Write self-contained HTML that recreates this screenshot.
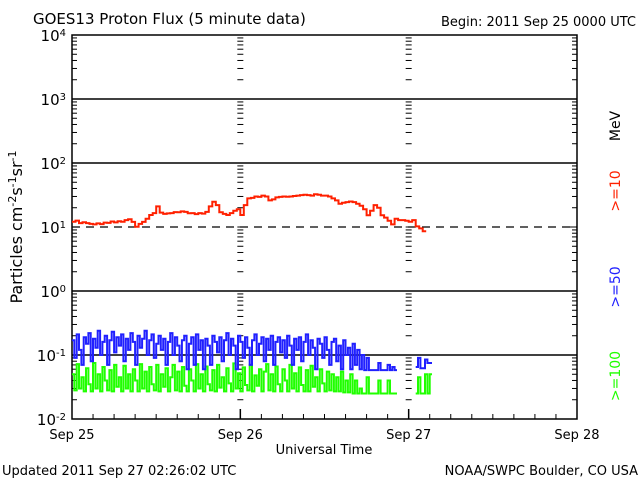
<!DOCTYPE html>
<html><head><meta charset="utf-8"><style>
body{margin:0;background:#fff;}
svg text{font-family:"DejaVu Sans","Liberation Sans",sans-serif;}
</style></head><body>
<svg id="chart" width="640" height="480" xmlns="http://www.w3.org/2000/svg">
<rect width="640" height="480" fill="#fff"/>
<text x="33" y="24" font-size="15">GOES13 Proton Flux (5 minute data)</text>
<text x="636" y="26" font-size="13" text-anchor="end">Begin: 2011 Sep 25 0000 UTC</text>
<text transform="translate(22,227) rotate(-90)" font-size="16" text-anchor="middle">Particles cm<tspan baseline-shift="super" font-size="11">-2</tspan>s<tspan baseline-shift="super" font-size="11">-1</tspan>sr<tspan baseline-shift="super" font-size="11">-1</tspan></text>
<text x="324" y="454" font-size="13" text-anchor="middle">Universal Time</text>
<text x="2" y="475" font-size="13">Updated 2011 Sep 27 02:26:02 UTC</text>
<text x="638" y="475" font-size="13" text-anchor="end">NOAA/SWPC Boulder, CO USA</text>
<text transform="translate(620,126) rotate(-90)" font-size="14" text-anchor="middle">MeV</text>
<text transform="translate(620,191) rotate(-90)" font-size="14" text-anchor="middle" fill="#ff2000">&gt;=10</text>
<text transform="translate(620,287) rotate(-90)" font-size="14" text-anchor="middle" fill="#2020ff">&gt;=50</text>
<text transform="translate(620,376) rotate(-90)" font-size="14" text-anchor="middle" fill="#20ff00">&gt;=100</text>
<g id="axes"></g>
<g id="series"></g>
</svg>
<script>
const dayLabels=["Sep 25","Sep 26","Sep 27","Sep 28"];
const decadeExps=[-2,-1,0,1,2,3,4];
// half-hourly >=10 MeV flux, hours 0..50.5
const p10=[12.1,12.6,11.5,11.9,11.5,11.2,11,11.4,11.1,11.7,11.6,12.2,11.8,12.3,12.1,12.8,13.2,12,10.1,11.2,12,13.5,15.4,16.5,21,16.8,16,16.3,16.5,17.1,17,17.5,17.2,16.4,16.5,15.9,16.5,16.2,17.2,21,24.8,22,17,16,15.4,16.5,18,19,15.4,22,28,28.5,30,29.5,31,30,26,27,29,29.5,30,29.8,30,30.5,31,31.5,32,31.5,31,32.5,32,31,31,30,28,26,23,24,24.5,25,24.5,23,21.5,19,15.3,18,22,20,15.3,14,12.5,11,13.5,12.8,12.8,12.5,12.1,12.8,10.2,9.5,8.6];
// 20-minute >=50 MeV flux (null = data gap)
const p50=[0.17,0.09,0.21,0.12,0.07,0.19,0.15,0.22,0.08,0.18,0.13,0.24,0.1,0.16,0.2,0.07,0.17,0.23,0.11,0.19,0.14,0.21,0.08,0.18,0.12,0.22,0.16,0.07,0.2,0.13,0.18,0.24,0.1,0.17,0.21,0.09,0.15,0.2,0.12,0.18,0.07,0.16,0.22,0.1,0.19,0.14,0.08,0.17,0.2,0.06,0.15,0.19,0.07,0.21,0.12,0.17,0.06,0.18,0.14,0.07,0.2,0.16,0.11,0.19,0.08,0.17,0.22,0.1,0.18,0.14,0.06,0.2,0.16,0.09,0.19,0.13,0.07,0.17,0.21,0.1,0.15,0.19,0.08,0.18,0.12,0.2,0.07,0.16,0.19,0.11,0.17,0.09,0.2,0.14,0.07,0.18,0.12,0.19,0.08,0.16,0.21,0.1,0.17,0.13,0.06,0.18,0.15,0.09,0.19,0.12,0.07,0.16,0.18,0.08,0.14,0.06,0.17,0.1,0.13,0.06,0.15,0.07,0.12,0.06,0.1,0.058,0.09,0.058,0.058,0.058,0.058,0.075,0.058,0.058,0.058,0.07,0.058,0.065,0.058,null,null,null,null,null,null,null,null,0.065,0.09,0.062,0.062,0.085,0.075,0.075];
const p100=[0.05,0.028,0.072,0.03,0.045,0.027,0.062,0.035,0.027,0.075,0.03,0.05,0.027,0.065,0.04,0.028,0.058,0.027,0.07,0.032,0.045,0.027,0.068,0.03,0.05,0.027,0.06,0.04,0.027,0.072,0.03,0.055,0.027,0.065,0.035,0.028,0.07,0.027,0.05,0.032,0.062,0.027,0.045,0.07,0.028,0.055,0.027,0.065,0.033,0.027,0.06,0.04,0.027,0.072,0.03,0.05,0.027,0.066,0.035,0.028,0.058,0.027,0.07,0.031,0.045,0.027,0.062,0.036,0.027,0.074,0.03,0.052,0.027,0.064,0.034,0.028,0.07,0.027,0.048,0.033,0.06,0.027,0.055,0.072,0.028,0.05,0.027,0.066,0.035,0.027,0.06,0.04,0.027,0.07,0.03,0.052,0.027,0.064,0.034,0.027,0.058,0.027,0.068,0.032,0.045,0.027,0.06,0.036,0.027,0.055,0.028,0.05,0.027,0.045,0.027,0.055,0.026,0.04,0.026,0.05,0.025,0.04,0.025,0.03,0.025,0.025,0.045,0.025,0.025,0.025,0.025,0.04,0.025,0.025,0.025,0.04,0.025,0.025,0.025,null,null,null,null,null,null,null,null,0.025,0.045,0.025,0.025,0.05,0.025,0.05];
const NS="http://www.w3.org/2000/svg";
const X0=72,X1=577,Y0=35,Y1=419,dayW=(X1-X0)/3;
const xH=h=>X0+h*dayW/24;
const yV=v=>Y1-(Math.log10(v)+2)*(Y1-Y0)/6;
const axes=document.getElementById('axes'),series=document.getElementById('series');
function mk(t,a,p){const e=document.createElementNS(NS,t);for(const k in a)e.setAttribute(k,a[k]);p.appendChild(e);return e;}
function line(x1,y1,x2,y2,extra){return mk('line',Object.assign({x1,y1,x2,y2,stroke:'#000','stroke-width':1},extra||{}),axes);}
let fr=mk('rect',{x:X0,y:Y0,width:X1-X0,height:Y1-Y0,fill:'none',stroke:'#000','stroke-width':1.5},axes);


decadeExps.forEach(e=>{
  const y=yV(Math.pow(10,e));
  if(e>-2&&e<4){
    let g=line(X0,y,X1,y,e===1?{'stroke-dasharray':'8,6','stroke-width':1.3}:{'stroke-width':1.5});
    
    
  }
  line(X0,y,X0+8,y);line(X1-8,y,X1,y);
  const t=mk('text',{x:X0-6,y:y+6,'font-size':15,'text-anchor':'end'},axes);
  
  
  t.textContent='10';
  const s=mk('tspan',{'baseline-shift':'super','font-size':10},t);s.textContent=String(e);
  if(e<4){for(let m=2;m<10;m++){const ym=yV(m*Math.pow(10,e));
    line(X0,ym,X0+5,ym);line(X1-5,ym,X1,ym);
    [1,2].forEach(d=>{const xd=X0+d*dayW;line(xd-3,ym,xd+3,ym);});}}
});
dayLabels.forEach((d,i)=>{
  const x=X0+i*dayW;
  const t=mk('text',{x:x,y:439,'font-size':13,'text-anchor':'middle'},axes);
  
  
  t.textContent=d;
  if(i>0&&i<3){line(x,Y1,x,Y1-10,{'stroke-width':1.5});
    decadeExps.forEach(e=>{if(e<4){const y=yV(Math.pow(10,e));line(x-3,y,x+3,y);}});}
});
for(let h=3;h<72;h+=3){if(h%24)line(xH(h),Y1,xH(h),Y1-5);}
function draw(arr,step,color,name){
  let d='',pen=false;
  arr.forEach((v,i)=>{
    if(v===null){pen=false;return;}
    const x=xH(i*step),y=yV(v);
    if(!pen){d+='M'+x.toFixed(1)+' '+y.toFixed(1);pen=true;}
    else d+='L'+x.toFixed(1)+' '+y.toFixed(1);
    d+='L'+xH((i+1)*step).toFixed(1)+' '+y.toFixed(1);
  });
  const p=mk('path',{d,fill:'none',stroke:color,'stroke-width':2},series);
  
  
}
draw(p100,1/3,'#20ff00','series-ge100');
draw(p50,1/3,'#2020ff','series-ge50');
draw(p10,0.5,'#ff2000','series-ge10');
</script>
</body></html>
